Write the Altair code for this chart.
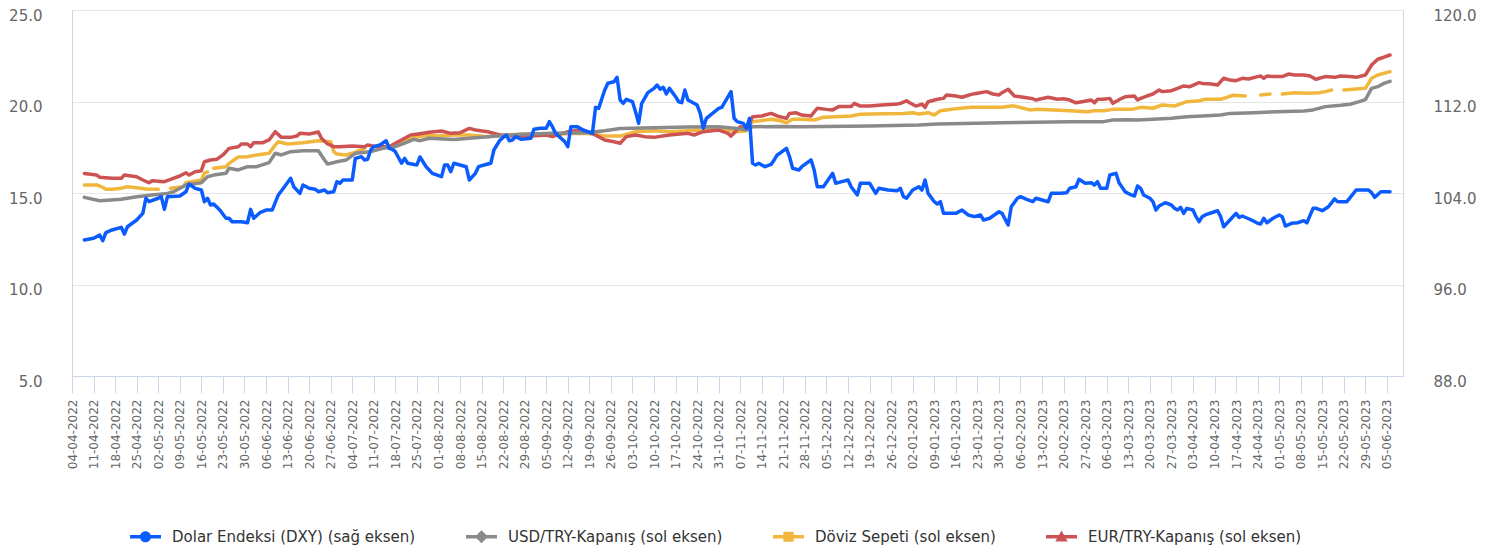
import altair as alt
import pandas as pd

START = pd.Timestamp("2022-04-04")

# (days after 04-04-2022, value)
dxy_points = [(4,99.89),(7,100.04),(9,100.33),(10,99.83),(11,100.53),(13,100.77),(16,101.0),(17,100.41),(18,101.05),(21,101.64),(23,102.22),(24,103.54),(25,103.24),(28,103.54),(29,103.68),(30,102.57),(31,103.68),(35,103.74),(37,104.11),(38,104.79),(40,104.41),(42,104.26),(43,103.24),(44,103.54),(45,102.95),(46,103.04),(48,102.51),(50,101.79),(51,101.79),(52,101.49),(55,101.49),(57,101.40),(58,102.57),(59,101.79),(61,102.28),(63,102.51),(65,102.51),(67,103.83),(69,104.55),(71,105.29),(72,104.55),(74,103.97),(75,104.70),(77,104.41),(79,104.32),(80,104.11),(82,104.26),(83,104.03),(85,104.11),(86,104.99),(87,104.85),(88,105.14),(91,105.14),(92,107.03),(94,107.17),(95,106.89),(96,106.95),(97,107.76),(98,108.05),(100,108.20),(102,108.57),(103,107.91),(104,107.82),(105,107.61),(107,106.60),(108,107.03),(109,106.60),(112,106.45),(113,107.15),(115,106.30),(116,106.01),(117,105.72),(120,105.43),(121,106.45),(122,106.45),(123,105.86),(124,106.60),(126,106.45),(128,106.30),(129,105.14),(131,105.72),(132,106.30),(135,106.54),(136,106.60),(137,107.76),(139,108.63),(141,109.07),(142,108.57),(143,108.63),(144,108.92),(146,108.69),(149,108.78),(150,109.57),(152,109.66),(154,109.66),(155,110.24),(156,109.80),(157,109.22),(160,108.49),(161,108.05),(162,109.80),(164,109.80),(166,109.51),(169,109.22),(170,111.49),(171,111.40),(173,113.00),(174,113.59),(176,113.73),(177,114.11),(178,112.13),(179,111.84),(180,112.19),(182,111.98),(183,111.11),(184,110.09),(185,111.84),(187,112.77),(189,113.15),(190,113.44),(191,113.07),(192,113.24),(193,112.66),(194,113.15),(196,112.42),(197,111.98),(198,111.90),(199,113.00),(200,112.13),(203,111.69),(204,110.97),(205,109.66),(206,110.53),(208,110.97),(210,111.40),(211,111.49),(214,112.86),(215,110.53),(216,110.24),(218,110.09),(219,109.66),(220,110.53),(221,106.60),(222,106.45),(223,106.60),(225,106.30),(227,106.50),(228,106.89),(229,107.32),(230,107.50),(232,107.91),(233,107.17),(234,106.16),(236,106.01),(237,106.30),(240,106.89),(241,106.01),(242,104.55),(244,104.55),(247,105.72),(248,104.85),(250,104.99),(252,105.14),(253,104.55),(255,103.83),(256,104.85),(259,104.85),(260,104.41),(261,103.97),(262,104.41),(265,104.26),(268,104.20),(269,104.41),(270,103.68),(271,103.54),(273,104.26),(275,104.55),(276,104.26),(277,105.14),(278,103.97),(280,103.24),(281,103.04),(282,103.24),(283,102.22),(285,102.22),(287,102.22),(289,102.51),(291,102.08),(293,101.93),(295,102.08),(296,101.64),(298,101.79),(301,102.36),(302,102.22),(304,101.20),(305,102.80),(307,103.54),(308,103.68),(310,103.45),(312,103.24),(313,103.54),(315,103.39),(317,103.24),(318,103.97),(321,103.97),(323,104.03),(324,104.41),(326,104.55),(327,105.20),(329,104.85),(331,104.90),(332,104.70),(333,104.99),(334,104.41),(336,104.41),(337,105.57),(339,105.72),(340,104.90),(342,104.10),(344,103.83),(345,103.74),(346,104.61),(347,104.41),(348,103.83),(350,103.54),(351,103.24),(352,102.51),(353,102.86),(355,103.15),(357,102.95),(358,102.66),(359,102.51),(360,102.74),(361,102.22),(362,102.66),(364,102.51),(365,101.93),(366,101.49),(367,101.93),(368,102.08),(371,102.36),(372,102.45),(373,101.93),(374,101.05),(376,101.64),(378,102.22),(379,101.87),(380,101.99),(383,101.64),(385,101.35),(386,101.29),(387,101.79),(388,101.40),(390,101.79),(392,102.08),(393,101.93),(394,101.11),(396,101.35),(398,101.40),(400,101.58),(401,101.40),(403,102.66),(404,102.66),(406,102.45),(408,102.80),(410,103.48),(411,103.24),(414,103.24),(417,104.26),(418,104.26),(421,104.26),(422,104.03),(423,103.62),(425,104.11),(428,104.11)]

usd_points = [(4,14.76),(9,14.58),(16,14.66),(21,14.80),(26,14.89),(31,14.98),(33,15.07),(37,15.44),(42,15.56),(44,15.89),(46,15.98),(50,16.08),(51,16.35),(54,16.26),(57,16.44),(60,16.44),(64,16.66),(66,17.17),(68,17.08),(71,17.26),(75,17.31),(80,17.31),(82,16.80),(83,16.58),(86,16.71),(89,16.80),(92,17.17),(97,17.26),(101,17.44),(105,17.53),(108,17.72),(111,17.93),(113,17.86),(116,17.99),(124,17.93),(135,18.08),(146,18.21),(156,18.26),(167,18.29),(173,18.40),(178,18.53),(189,18.57),(200,18.61),(210,18.62),(216,18.53),(219,18.44),(221,18.62),(230,18.64),(237,18.62),(259,18.66),(275,18.72),(281,18.77),(302,18.84),(324,18.90),(335,18.90),(338,18.99),(343,19.00),(346,18.99),(351,19.03),(357,19.08),(362,19.17),(367,19.21),(373,19.26),(376,19.35),(384,19.39),(389,19.43),(394,19.46),(400,19.48),(403,19.54),(407,19.72),(412,19.79),(415,19.85),(418,19.99),(420,20.10),(422,20.72),(424,20.81),(426,20.99),(428,21.10)]

sepet_points = [(4,15.44),(8,15.44),(10,15.31),(11,15.20),(13,15.20),(16,15.26),(18,15.34),(21,15.29),(24,15.22),(28,15.20),(29,None),(32,15.26),(36,15.34),(37,15.56),(42,15.71),(43,16.08),(44,16.15),(45,None),(46,16.35),(50,16.44),(51,16.62),(54,16.97),(57,16.98),(60,17.08),(64,17.17),(66,17.62),(67,17.80),(70,17.68),(75,17.75),(80,17.86),(84,17.80),(85,17.26),(86,17.13),(89,17.08),(91,17.17),(94,17.35),(95,17.44),(97,None),(100,17.50),(101,17.53),(102,None),(105,17.62),(108,17.84),(111,18.04),(116,18.17),(118,18.11),(124,18.17),(129,18.17),(135,18.08),(140,18.17),(146,18.21),(156,18.22),(167,18.26),(173,18.11),(178,18.11),(183,18.35),(189,18.40),(194,18.35),(200,18.40),(205,18.44),(210,18.53),(216,18.35),(219,18.40),(221,18.90),(227,19.03),(230,18.95),(232,18.84),(234,19.03),(237,19.03),(241,18.99),(244,19.14),(248,19.17),(253,19.21),(256,19.30),(259,19.32),(270,19.35),(273,19.39),(275,19.32),(278,19.39),(280,19.26),(282,19.50),(284,19.54),(287,19.61),(292,19.68),(297,19.68),(302,19.68),(305,19.75),(306,19.75),(309,19.63),(311,19.54),(313,19.57),(319,19.54),(324,19.50),(330,19.44),(332,19.50),(335,19.50),(338,19.57),(344,19.57),(347,19.68),(351,19.63),(354,19.81),(358,19.75),(362,19.99),(366,20.04),(368,20.12),(373,20.12),(375,20.23),(377,20.34),(381,20.30),(382,None),(386,20.36),(389,20.41),(392,None),(393,20.41),(397,20.48),(401,20.45),(405,20.48),(407,20.54),(409,20.63),(410,None),(413,20.63),(416,20.67),(420,20.72),(422,21.27),(424,21.45),(428,21.63)]

eur_points = [(4,16.07),(8,15.98),(9,15.86),(13,15.80),(16,15.80),(17,15.98),(21,15.89),(23,15.71),(25,15.56),(26,15.67),(30,15.62),(32,15.75),(35,15.93),(37,16.11),(38,15.98),(40,16.16),(42,16.22),(43,16.71),(45,16.80),(47,16.84),(49,17.08),(51,17.44),(54,17.53),(55,17.68),(57,17.68),(58,17.53),(59,17.75),(62,17.75),(64,17.90),(66,18.35),(68,18.04),(71,18.04),(73,18.11),(74,18.26),(77,18.22),(80,18.33),(81,17.99),(83,17.68),(85,17.53),(87,17.53),(91,17.57),(95,17.53),(96,17.62),(99,17.53),(103,17.53),(105,17.72),(108,17.99),(110,18.17),(113,18.24),(116,18.32),(120,18.39),(123,18.26),(126,18.29),(129,18.53),(131,18.44),(135,18.35),(139,18.17),(143,18.11),(149,18.11),(154,18.17),(156,18.08),(161,18.35),(165,18.44),(169,18.26),(173,17.90),(176,17.80),(178,17.72),(180,18.08),(183,18.17),(186,18.08),(189,18.04),(194,18.17),(200,18.26),(202,18.17),(205,18.35),(210,18.44),(213,18.26),(214,18.11),(217,18.62),(219,18.53),(220,18.81),(221,19.17),(224,19.21),(227,19.35),(229,19.21),(232,19.08),(233,19.35),(235,19.39),(237,19.26),(240,19.21),(242,19.63),(245,19.57),(247,19.54),(249,19.72),(253,19.72),(254,19.90),(256,19.75),(259,19.75),(263,19.81),(268,19.86),(269,19.90),(271,20.04),(272,19.93),(274,19.75),(276,19.86),(277,19.68),(278,19.99),(281,20.12),(283,20.17),(284,20.36),(287,20.30),(289,20.23),(292,20.39),(294,20.45),(297,20.54),(299,20.41),(301,20.36),(302,20.48),(304,20.67),(306,20.30),(309,20.23),(312,20.15),(313,20.08),(317,20.23),(320,20.12),(322,20.15),(324,20.08),(326,19.93),(328,19.99),(331,20.08),(332,19.93),(333,20.12),(335,20.12),(337,20.17),(338,19.90),(340,20.10),(342,20.26),(345,20.30),(346,20.08),(347,20.17),(349,20.30),(351,20.41),(353,20.63),(354,20.54),(357,20.59),(359,20.72),(361,20.85),(363,20.81),(366,21.03),(367,20.99),(370,20.96),(372,20.90),(374,21.27),(376,21.17),(378,21.14),(380,21.27),(382,21.23),(385,21.36),(386,21.39),(387,21.27),(388,21.39),(390,21.36),(393,21.36),(395,21.50),(397,21.45),(400,21.45),(402,21.39),(404,21.21),(405,21.27),(407,21.36),(410,21.32),(412,21.39),(415,21.36),(417,21.32),(420,21.45),(422,21.99),(424,22.31),(426,22.42),(428,22.54)]

series_names = [
    "Dolar Endeksi (DXY) (sağ eksen)",
    "USD/TRY-Kapanış (sol eksen)",
    "Döviz Sepeti (sol eksen)",
    "EUR/TRY-Kapanış (sol eksen)",
]
series_colors = ["#0b5cff", "#8a8a8a", "#f1b73c", "#cd5353"]
left_ticks = [5, 10, 15, 20, 25]
right_ticks = [88, 96, 104, 112, 120]
tick_dates = pd.date_range("2022-04-04", "2023-06-05", freq="7D")

# legend symbols: a line with the series marker on it
legend_shapes = [
    "M-1,-0.12 H1 V0.12 H-1 Z M0,-0.36 A0.36,0.36 0 1,1 0,0.36 A0.36,0.36 0 1,1 0,-0.36 Z",
    "M-1,-0.12 H1 V0.12 H-1 Z M0,-0.42 L0.42,0 L0,0.42 L-0.42,0 Z",
    "M-1,-0.12 H1 V0.12 H-1 Z M-0.33,-0.33 H0.33 V0.33 H-0.33 Z",
    "M-1,-0.12 H1 V0.12 H-1 Z M0,-0.4 L0.4,0.3 L-0.4,0.3 Z",
]

FONT = "DejaVu Sans"


def frame(points):
    return pd.DataFrame({
        "date": [(START + pd.Timedelta(days=d)).strftime("%Y-%m-%d") for d, _ in points],
        "value": [v for _, v in points],
    })


def dt(ts, hours=0):
    return alt.DateTime(year=ts.year, month=ts.month, date=ts.day, hours=hours, utc=True)


x_enc = alt.X(
    "date:T",
    scale=alt.Scale(type="utc", domain=[dt(pd.Timestamp("2022-04-04")), dt(pd.Timestamp("2023-06-10"), 5)]),
    axis=alt.Axis(
        values=[dt(t) for t in tick_dates], format="%d-%m-%Y", labelAngle=-90, title=None,
        grid=False, tickColor="#ccd6eb", tickSize=17, domainColor="#ccd6eb",
        labelFontSize=12, labelFont=FONT, labelColor="#666666", labelPadding=6,
        labelOverlap=False,
    ),
)

left_y = alt.Y(
    "value:Q",
    scale=alt.Scale(domain=[5, 25], nice=False, zero=False),
    axis=alt.Axis(
        values=left_ticks, format=".1f", title=None, orient="left", grid=True,
        gridColor="#e6e6e6", domainColor="#ccd6eb", ticks=False, tickSize=0,
        labelPadding=30, labelOffset=5, labelFontSize=15, labelFont=FONT, labelColor="#666666",
    ),
)
right_y = alt.Y(
    "value:Q",
    scale=alt.Scale(domain=[88, 120], nice=False, zero=False),
    axis=alt.Axis(
        values=right_ticks, format=".1f", title=None, orient="right", grid=False,
        domainColor="#ccd6eb", ticks=False, tickSize=0,
        labelPadding=30, labelOffset=5, labelFontSize=15, labelFont=FONT, labelColor="#666666",
    ),
)


def line(points, color, y):
    return alt.Chart(frame(points)).mark_line(
        color=color, strokeWidth=3.5, strokeJoin="round", strokeCap="round",
        invalid="break-paths-filter-domains",
    ).encode(x=x_enc, y=y)


left = alt.layer(
    line(sepet_points, series_colors[2], left_y),
    line(eur_points, series_colors[3], left_y),
    line(usd_points, series_colors[1], left_y),
)
right = line(dxy_points, series_colors[0], right_y)

legend_def = alt.Legend(
    title=None, orient="none", legendX=58, legendY=511, direction="horizontal", columns=4,
    symbolSize=961, symbolStrokeWidth=0, symbolOpacity=1, labelFontSize=15, labelFont=FONT,
    labelColor="#333333", labelOffset=11, columnPadding=50, labelLimit=500,
)
legend_layer = alt.Chart(pd.DataFrame({"series": series_names})).transform_filter(
    "datum.series == 'none'"
).mark_point(filled=True).encode(
    color=alt.Color("series:N", scale=alt.Scale(domain=series_names, range=series_colors), legend=legend_def),
    shape=alt.Shape("series:N", scale=alt.Scale(domain=series_names, range=legend_shapes), legend=legend_def),
)

chart = alt.layer(left, right, legend_layer).resolve_scale(y="independent").properties(
    width=1331, height=366,
    padding={"left": 64, "top": 2, "right": 86, "bottom": 169},
    autosize=alt.AutoSizeParams(type="none"),
).configure_view(strokeWidth=0).configure(font=FONT)

chart.save("out.html", embed_options={"renderer": "svg", "actions": False})
